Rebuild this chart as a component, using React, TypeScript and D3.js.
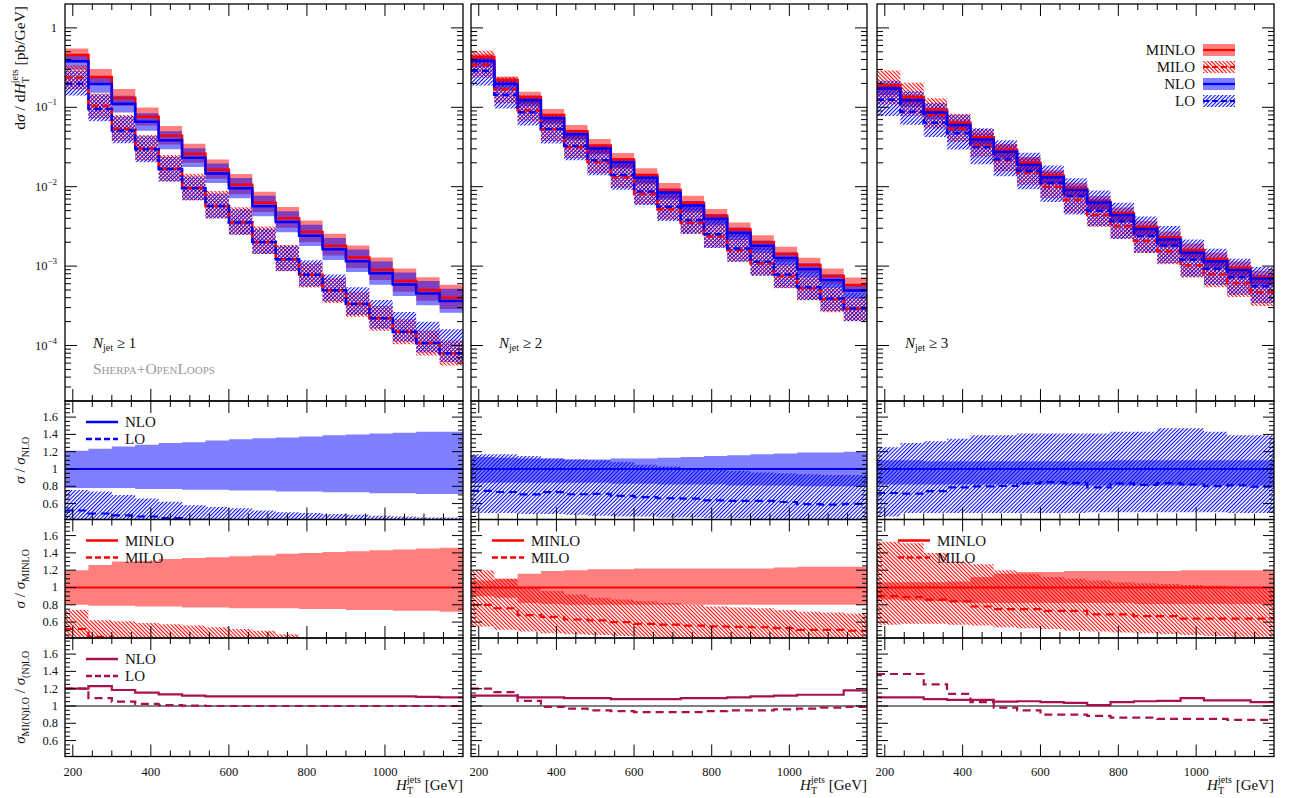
import React from 'react';
import * as d3 from 'd3';

// bin edges in H_T^jets [GeV]
const binEdges = [180, 240, 300, 360, 420, 480, 540, 600, 660, 720, 780, 840, 900, 960, 1020, 1080, 1140, 1200];
const xTickLabels = [200, 400, 600, 800, 1000];
const ratioTickLabels = [0.6, 0.8, 1, 1.2, 1.4, 1.6];
const logTickExps = [0, -1, -2, -3, -4];
const jetLabels = ['1', '2', '3'];

// ---- N_jet >= 1 ----
const minlo1 = [0.457, 0.241, 0.131, 0.0758, 0.0437, 0.026, 0.0163, 0.0106, 0.0063, 0.004, 0.00268, 0.00181, 0.00128, 0.0009, 0.00065, 0.0005, 0.0004];
const nloRatio1 = [1.2, 1.23, 1.185, 1.155, 1.135, 1.12, 1.11, 1.11, 1.11, 1.11, 1.11, 1.11, 1.11, 1.11, 1.11, 1.105, 1.1];
const loRatio1 = [1.2, 1.09, 1.05, 1.025, 1.01, 1.005, 1.0, 1.0, 1.0, 1.0, 1.0, 1.0, 1.0, 1.0, 1.0, 1.0, 1.0];
const miloRel1 = [0.52, 0.43, 0.41, 0.4, 0.385, 0.37, 0.35, 0.335, 0.32, 0.305, 0.29, 0.275, 0.26, 0.245, 0.23, 0.215, 0.2];
const minloUp1 = [1.2, 1.26, 1.3, 1.31, 1.33, 1.34, 1.35, 1.36, 1.37, 1.39, 1.4, 1.41, 1.42, 1.43, 1.44, 1.45, 1.46];
const minloDn1 = [0.8, 0.79, 0.79, 0.78, 0.78, 0.77, 0.77, 0.76, 0.76, 0.76, 0.75, 0.75, 0.74, 0.74, 0.73, 0.73, 0.72];
const nloUp1 = [1.21, 1.235, 1.26, 1.28, 1.3, 1.31, 1.33, 1.345, 1.355, 1.365, 1.375, 1.39, 1.4, 1.41, 1.42, 1.43, 1.43];
const nloDn1 = [0.78, 0.78, 0.78, 0.77, 0.77, 0.76, 0.76, 0.75, 0.75, 0.74, 0.74, 0.73, 0.73, 0.72, 0.72, 0.71, 0.71];
const miloHi1 = [0.74, 0.62, 0.61, 0.59, 0.575, 0.56, 0.54, 0.52, 0.5, 0.46, 0.41, 0.39, 0.37, 0.35, 0.33, 0.31, 0.29];
const miloLo1 = [0.37, 0.3, 0.29, 0.28, 0.27, 0.26, 0.245, 0.235, 0.225, 0.215, 0.2, 0.19, 0.18, 0.17, 0.16, 0.15, 0.14];
const loHi1 = [0.757, 0.74, 0.7, 0.66, 0.62, 0.58, 0.56, 0.545, 0.52, 0.5, 0.49, 0.48, 0.47, 0.46, 0.45, 0.44, 0.44];
const loLo1 = [0.37, 0.34, 0.32, 0.31, 0.3, 0.29, 0.27, 0.26, 0.25, 0.24, 0.23, 0.22, 0.21, 0.2, 0.19, 0.18, 0.17];

// ---- N_jet >= 2 ----
const minlo2 = [0.43, 0.22, 0.135, 0.08, 0.05, 0.033, 0.022, 0.014, 0.0091, 0.0063, 0.0043, 0.0029, 0.002, 0.00142, 0.00103, 0.00075, 0.00058];
const nloRatio2 = [1.12, 1.12, 1.1, 1.1, 1.09, 1.09, 1.08, 1.08, 1.08, 1.09, 1.09, 1.1, 1.11, 1.12, 1.13, 1.13, 1.18];
const loRatio2 = [1.2, 1.16, 1.06, 0.99, 0.97, 0.95, 0.94, 0.93, 0.93, 0.93, 0.94, 0.95, 0.95, 0.96, 0.97, 0.98, 0.99];
const miloRel2 = [0.8, 0.76, 0.68, 0.66, 0.63, 0.62, 0.6, 0.58, 0.57, 0.56, 0.55, 0.545, 0.54, 0.53, 0.51, 0.51, 0.5];
const minloUp2 = [1.08, 1.1, 1.16, 1.19, 1.2, 1.21, 1.21, 1.22, 1.22, 1.22, 1.22, 1.22, 1.22, 1.23, 1.24, 1.24, 1.24];
const minloDn2 = [0.9, 0.88, 0.82, 0.81, 0.8, 0.8, 0.8, 0.8, 0.8, 0.8, 0.8, 0.8, 0.8, 0.8, 0.8, 0.8, 0.8];
const nloUp2 = [1.14, 1.13, 1.12, 1.12, 1.11, 1.11, 1.12, 1.12, 1.13, 1.14, 1.15, 1.16, 1.17, 1.18, 1.19, 1.19, 1.2];
const nloDn2 = [0.84, 0.84, 0.84, 0.84, 0.84, 0.84, 0.83, 0.83, 0.82, 0.82, 0.82, 0.81, 0.81, 0.81, 0.8, 0.8, 0.8];
const miloHi2 = [1.2, 1.1, 1.0, 0.96, 0.92, 0.88, 0.86, 0.84, 0.82, 0.8, 0.78, 0.77, 0.76, 0.74, 0.72, 0.71, 0.7];
const miloLo2 = [0.55, 0.51, 0.49, 0.47, 0.46, 0.45, 0.44, 0.43, 0.42, 0.41, 0.4, 0.39, 0.38, 0.37, 0.36, 0.35, 0.35];
const loHi2 = [1.17, 1.17, 1.15, 1.12, 1.11, 1.1, 1.08, 1.05, 1.03, 1.01, 0.99, 0.98, 0.96, 0.95, 0.94, 0.93, 0.93];
const loLo2 = [0.49, 0.49, 0.48, 0.48, 0.47, 0.46, 0.45, 0.45, 0.44, 0.44, 0.43, 0.43, 0.42, 0.42, 0.41, 0.41, 0.41];

// ---- N_jet >= 3 ----
const minlo3 = [0.19, 0.135, 0.093, 0.064, 0.042, 0.029, 0.02, 0.0137, 0.0094, 0.0064, 0.0046, 0.0031, 0.0023, 0.0016, 0.00123, 0.00095, 0.00073];
const nloRatio3 = [1.1, 1.1, 1.08, 1.07, 1.07, 1.05, 1.055, 1.045, 1.035, 1.01, 1.045, 1.055, 1.06, 1.09, 1.065, 1.065, 1.045];
const loRatio3 = [1.37, 1.37, 1.25, 1.14, 1.045, 0.98, 0.95, 0.9, 0.9, 0.885, 0.865, 0.865, 0.85, 0.85, 0.85, 0.84, 0.84];
const miloRel3 = [0.9, 0.89, 0.86, 0.84, 0.78, 0.75, 0.75, 0.73, 0.73, 0.69, 0.69, 0.67, 0.67, 0.64, 0.64, 0.64, 0.64];
const minloUp3 = [1.06, 1.06, 1.06, 1.07, 1.12, 1.16, 1.18, 1.18, 1.19, 1.19, 1.19, 1.19, 1.19, 1.2, 1.2, 1.2, 1.2];
const minloDn3 = [0.86, 0.85, 0.84, 0.83, 0.82, 0.82, 0.82, 0.82, 0.82, 0.82, 0.82, 0.81, 0.81, 0.81, 0.81, 0.81, 0.81];
const nloUp3 = [1.1, 1.1, 1.09, 1.09, 1.09, 1.09, 1.09, 1.09, 1.09, 1.09, 1.1, 1.1, 1.1, 1.1, 1.1, 1.1, 1.1];
const nloDn3 = [0.82, 0.82, 0.82, 0.82, 0.82, 0.82, 0.82, 0.82, 0.81, 0.81, 0.81, 0.81, 0.81, 0.81, 0.81, 0.81, 0.81];
const miloHi3 = [1.53, 1.51, 1.4, 1.3, 1.27, 1.2, 1.16, 1.12, 1.1, 1.08, 1.06, 1.05, 1.04, 1.03, 1.02, 1.0, 0.99];
const miloLo3 = [0.57, 0.58, 0.58, 0.57, 0.56, 0.54, 0.53, 0.52, 0.5, 0.49, 0.48, 0.47, 0.46, 0.45, 0.44, 0.43, 0.43];
const loHi3 = [1.25, 1.3, 1.32, 1.35, 1.39, 1.39, 1.41, 1.41, 1.41, 1.41, 1.43, 1.43, 1.47, 1.47, 1.43, 1.39, 1.39];
const loLo3 = [0.45, 0.49, 0.49, 0.49, 0.49, 0.49, 0.49, 0.49, 0.49, 0.5, 0.5, 0.5, 0.5, 0.5, 0.5, 0.49, 0.49];

const columns = [
  { minlo: minlo1, nloRatio: nloRatio1, loRatio: loRatio1, miloRel: miloRel1, minloUp: minloUp1, minloDn: minloDn1, nloUp: nloUp1, nloDn: nloDn1, miloHi: miloHi1, miloLo: miloLo1, loHi: loHi1, loLo: loLo1 },
  { minlo: minlo2, nloRatio: nloRatio2, loRatio: loRatio2, miloRel: miloRel2, minloUp: minloUp2, minloDn: minloDn2, nloUp: nloUp2, nloDn: nloDn2, miloHi: miloHi2, miloLo: miloLo2, loHi: loHi2, loLo: loLo2 },
  { minlo: minlo3, nloRatio: nloRatio3, loRatio: loRatio3, miloRel: miloRel3, minloUp: minloUp3, minloDn: minloDn3, nloUp: nloUp3, nloDn: nloDn3, miloHi: miloHi3, miloLo: miloLo3, loHi: loHi3, loLo: loLo3 },
];

const RED = '#ff0000';
const BLUE = '#0000ff';
const MAROON = '#aa1050';
const FONT = "'Liberation Serif', 'DejaVu Serif', serif";

const colX = [[65, 463], [471, 867], [877, 1274]];
const topTop = 4;
const topBottom = 401;
const rowTops = [401, 519.5, 638];
const rowH = 118.5;

const mul = (a: number[], b: number[]) => a.map((v, i) => v * b[i]);
const div = (a: number[], b: number[]) => a.map((v, i) => v / b[i]);
const last = binEdges.length - 2;

function stepLine(xs: any, ys: any, vals: number[]) {
  return d3.line<number>()
    .x(d => xs(d))
    .y((_, i) => ys(vals[Math.min(i, last)]))
    .curve(d3.curveStepAfter)(binEdges) as string;
}
function stepArea(xs: any, ys: any, lo: number[], hi: number[]) {
  return d3.area<number>()
    .x(d => xs(d))
    .y0((_, i) => ys(lo[Math.min(i, last)]))
    .y1((_, i) => ys(hi[Math.min(i, last)]))
    .curve(d3.curveStepAfter)(binEdges) as string;
}

function Frame({ x0, x1, y0, y1, yTicks }: any) {
  const xs = d3.scaleLinear().domain([180, 1200]).range([x0, x1]);
  const xt = d3.range(200, 1200, 50);
  return (
    <g stroke="#000" strokeWidth={1}>
      {xt.map(v => {
        const L = v % 200 === 0 ? 12 : 6;
        const px = xs(v);
        return (
          <g key={'x' + v}>
            <line x1={px} x2={px} y1={y1} y2={y1 - L} />
            <line x1={px} x2={px} y1={y0} y2={y0 + L} />
          </g>
        );
      })}
      {yTicks.map((t: any, i: number) => (
        <g key={'y' + i}>
          <line x1={x0} x2={x0 + t.len} y1={t.y} y2={t.y} />
          <line x1={x1} x2={x1 - t.len} y1={t.y} y2={t.y} />
        </g>
      ))}
      <rect x={x0} y={y0} width={x1 - x0} height={y1 - y0} fill="none" strokeWidth={1.3} />
    </g>
  );
}

export default function App() {
  const yLog = d3.scaleLog().domain([2e-5, 2]).range([topBottom, topTop]);
  const logTicks: any[] = [];
  [-5, -4, -3, -2, -1, 0].forEach(k => {
    for (let m = 1; m <= 9; m++) {
      const v = m * Math.pow(10, k);
      if (v > 2e-5 && v < 2) logTicks.push({ y: yLog(v), len: m === 1 ? 12 : 6 });
    }
  });
  const ratioScale = (r: number) => d3.scaleLinear().domain([0.416, 1.786]).range([rowTops[r] + rowH, rowTops[r]]);
  const ratioTicks = (r: number) => {
    const ys = ratioScale(r);
    return d3.range(9, 36).map(k => k * 0.05).map(v => ({
      y: ys(v),
      len: Math.abs(v * 5 - Math.round(v * 5)) < 1e-6 ? 11 : 5,
    }));
  };

  const legendTop = [
    { label: 'MINLO', color: RED, fill: 'solid', dash: '' },
    { label: 'MILO', color: RED, fill: 'url(#hatchRed)', dash: '6,3' },
    { label: 'NLO', color: BLUE, fill: 'solid', dash: '' },
    { label: 'LO', color: BLUE, fill: 'url(#hatchBlue)', dash: '6,3' },
  ];

  const smallLegend = (x0: number, top: number, items: any[]) => (
    <g>
      {items.map((it, i) => (
        <g key={it.label}>
          <line x1={x0 + 21} x2={x0 + 53} y1={top + 21 + i * 17} y2={top + 21 + i * 17}
            stroke={it.color} strokeWidth={2.5} strokeDasharray={it.dash} />
          <text x={x0 + 60} y={top + 26 + i * 17} fontSize={15} fill="#111">{it.label}</text>
        </g>
      ))}
    </g>
  );

  return (
    <svg width={1289} height={798} style={{ position: 'absolute', left: 0, top: 0, background: '#fff' }} fontFamily={FONT}>
      <defs>
        <pattern id="hatchRed" patternUnits="userSpaceOnUse" width={2.7} height={10} patternTransform="rotate(-45)">
          <rect x={0} y={0} width={1.05} height={10} fill={RED} />
        </pattern>
        <pattern id="hatchBlue" patternUnits="userSpaceOnUse" width={2.7} height={10} patternTransform="rotate(45)">
          <rect x={0} y={0} width={1.05} height={10} fill={BLUE} />
        </pattern>
        {colX.map((cx, c) => (
          <g key={c}>
            <clipPath id={`clip-${c}-top`}><rect x={cx[0]} y={topTop} width={cx[1] - cx[0]} height={topBottom - topTop} /></clipPath>
            {rowTops.map((rt, r) => (
              <clipPath key={r} id={`clip-${c}-${r}`}><rect x={cx[0]} y={rt} width={cx[1] - cx[0]} height={rowH} /></clipPath>
            ))}
          </g>
        ))}
      </defs>

      {columns.map((col, c) => {
        const [x0, x1] = colX[c];
        const xs = d3.scaleLinear().domain([180, 1200]).range([x0, x1]);
        const nlo = div(col.minlo, col.nloRatio);
        const milo = mul(col.minlo, col.miloRel);
        const lo = div(milo, col.loRatio);
        const loRel = div(lo, nlo);
        const ones = col.minlo.map(() => 1);
        const y2 = ratioScale(0);
        const y3 = ratioScale(1);
        const y4 = ratioScale(2);
        return (
          <g key={c}>
            {/* main distribution */}
            <g clipPath={`url(#clip-${c}-top)`}>
              <path d={stepArea(xs, yLog, mul(col.minlo, col.minloDn), mul(col.minlo, col.minloUp))} fill={RED} fillOpacity={0.5} />
              <path d={stepArea(xs, yLog, mul(nlo, col.nloDn), mul(nlo, col.nloUp))} fill={BLUE} fillOpacity={0.5} />
              <path d={stepArea(xs, yLog, mul(col.minlo, col.miloLo), mul(col.minlo, col.miloHi))} fill="url(#hatchRed)" />
              <path d={stepArea(xs, yLog, mul(nlo, col.loLo), mul(nlo, col.loHi))} fill="url(#hatchBlue)" />
              <path d={stepLine(xs, yLog, col.minlo)} fill="none" stroke={RED} strokeWidth={2.5} />
              <path d={stepLine(xs, yLog, milo)} fill="none" stroke={RED} strokeWidth={2.5} strokeDasharray="7,4" />
              <path d={stepLine(xs, yLog, nlo)} fill="none" stroke={BLUE} strokeWidth={2.5} />
              <path d={stepLine(xs, yLog, lo)} fill="none" stroke={BLUE} strokeWidth={2.5} strokeDasharray="7,4" />
            </g>
            <Frame x0={x0} x1={x1} y0={topTop} y1={topBottom} yTicks={logTicks} />
            <text x={x0 + 28} y={348} fontSize={15} fill="#111">
              <tspan fontStyle="italic">N</tspan>
              <tspan fontSize={10} dy={3}>jet</tspan>
              <tspan dy={-3}>{' \u2265 ' + jetLabels[c]}</tspan>
            </text>

            {/* sigma / sigma_NLO */}
            <g clipPath={`url(#clip-${c}-0)`}>
              <path d={stepArea(xs, y2, col.nloDn, col.nloUp)} fill={BLUE} fillOpacity={0.5} />
              <path d={stepArea(xs, y2, col.loLo, col.loHi)} fill="url(#hatchBlue)" />
              <path d={stepLine(xs, y2, ones)} fill="none" stroke={BLUE} strokeWidth={2.2} />
              <path d={stepLine(xs, y2, loRel)} fill="none" stroke={BLUE} strokeWidth={2.2} strokeDasharray="8,5" />
            </g>
            <Frame x0={x0} x1={x1} y0={rowTops[0]} y1={rowTops[0] + rowH} yTicks={ratioTicks(0)} />

            {/* sigma / sigma_MINLO */}
            <g clipPath={`url(#clip-${c}-1)`}>
              <path d={stepArea(xs, y3, col.minloDn, col.minloUp)} fill={RED} fillOpacity={0.5} />
              <path d={stepArea(xs, y3, col.miloLo, col.miloHi)} fill="url(#hatchRed)" />
              <path d={stepLine(xs, y3, ones)} fill="none" stroke={RED} strokeWidth={2.2} />
              <path d={stepLine(xs, y3, col.miloRel)} fill="none" stroke={RED} strokeWidth={2.2} strokeDasharray="8,5" />
            </g>
            <Frame x0={x0} x1={x1} y0={rowTops[1]} y1={rowTops[1] + rowH} yTicks={ratioTicks(1)} />
            {smallLegend(x0, rowTops[1], [
              { label: 'MINLO', color: RED, dash: '' },
              { label: 'MILO', color: RED, dash: '6,3' },
            ])}

            {/* MI(N)LO / (N)LO */}
            <g clipPath={`url(#clip-${c}-2)`}>
              <line x1={x0} x2={x1} y1={y4(1)} y2={y4(1)} stroke="#000" strokeWidth={1.2} />
              <path d={stepLine(xs, y4, col.nloRatio)} fill="none" stroke={MAROON} strokeWidth={2.2} />
              <path d={stepLine(xs, y4, col.loRatio)} fill="none" stroke={MAROON} strokeWidth={2.2} strokeDasharray="8,5" />
            </g>
            <Frame x0={x0} x1={x1} y0={rowTops[2]} y1={rowTops[2] + rowH} yTicks={ratioTicks(2)} />

            {/* x axis */}
            {xTickLabels.map(v => (
              <text key={v} x={xs(v)} y={776} fontSize={12.5} textAnchor="middle" fill="#111">{v}</text>
            ))}
            <text x={x1} y={790} fontSize={15} textAnchor="end" fill="#111">
              <tspan fontStyle="italic">H</tspan>
              <tspan fontSize={10} dy={4}>T</tspan>
              <tspan fontSize={10} dx={-6} dy={-11}>jets</tspan>
              <tspan dy={7}> [GeV]</tspan>
            </text>
          </g>
        );
      })}

      {/* legends in first column */}
      {smallLegend(colX[0][0], rowTops[0], [
        { label: 'NLO', color: BLUE, dash: '' },
        { label: 'LO', color: BLUE, dash: '6,3' },
      ])}
      {smallLegend(colX[0][0], rowTops[2], [
        { label: 'NLO', color: MAROON, dash: '' },
        { label: 'LO', color: MAROON, dash: '6,3' },
      ])}

      {/* main legend */}
      {legendTop.map((it, i) => {
        const cy = 50 + i * 17;
        return (
          <g key={it.label}>
            <text x={1195} y={cy + 5} fontSize={15} textAnchor="end" fill="#111">{it.label}</text>
            <rect x={1203} y={cy - 6} width={32} height={12}
              fill={it.fill === 'solid' ? it.color : it.fill} fillOpacity={it.fill === 'solid' ? 0.5 : 1} />
            <line x1={1203} x2={1235} y1={cy} y2={cy} stroke={it.color} strokeWidth={2.2} strokeDasharray={it.dash} />
          </g>
        );
      })}

      <text x={colX[0][0] + 28} y={374} fontSize={15.5} fill="#999" style={{ fontVariant: 'small-caps' }}>Sherpa+OpenLoops</text>

      {/* y tick labels */}
      {logTickExps.map(k => (
        <text key={k} x={57} y={yLog(Math.pow(10, k)) + 4} fontSize={12.5} textAnchor="end" fill="#111">
          {k === 0 ? '1' : '10'}
          {k !== 0 && <tspan fontSize={9} dy={-6}>{'\u2212' + (-k)}</tspan>}
        </text>
      ))}
      {[0, 1, 2].map(r => ratioTickLabels.map(v => (
        <text key={r + '-' + v} x={58} y={ratioScale(r)(v) + 4} fontSize={12.5} textAnchor="end" fill="#111">{v}</text>
      )))}

      {/* y axis titles */}
      <text transform="translate(25,6) rotate(-90)" textAnchor="end" fontSize={15.5} fill="#111">
        d<tspan fontStyle="italic">σ</tspan> / d<tspan fontStyle="italic">H</tspan>
        <tspan fontSize={10} dy={4}>T</tspan>
        <tspan fontSize={10} dx={-6} dy={-11}>jets</tspan>
        <tspan dy={7}> [pb/GeV]</tspan>
      </text>
      <text transform={`translate(25,${rowTops[0] + rowH / 2}) rotate(-90)`} textAnchor="middle" fontSize={15} fill="#111">
        <tspan fontStyle="italic">σ</tspan> / <tspan fontStyle="italic">σ</tspan>
        <tspan fontSize={10} dy={4}>NLO</tspan>
      </text>
      <text transform={`translate(25,${rowTops[1] + rowH / 2}) rotate(-90)`} textAnchor="middle" fontSize={15} fill="#111">
        <tspan fontStyle="italic">σ</tspan> / <tspan fontStyle="italic">σ</tspan>
        <tspan fontSize={10} dy={4}>MINLO</tspan>
      </text>
      <text transform={`translate(25,${rowTops[2] + rowH / 2}) rotate(-90)`} textAnchor="middle" fontSize={15} fill="#111">
        <tspan fontStyle="italic">σ</tspan>
        <tspan fontSize={10} dy={4}>MI(N)LO</tspan>
        <tspan dy={-4}> / </tspan>
        <tspan fontStyle="italic">σ</tspan>
        <tspan fontSize={10} dy={4}>(N)LO</tspan>
      </text>
    </svg>
  );
}
